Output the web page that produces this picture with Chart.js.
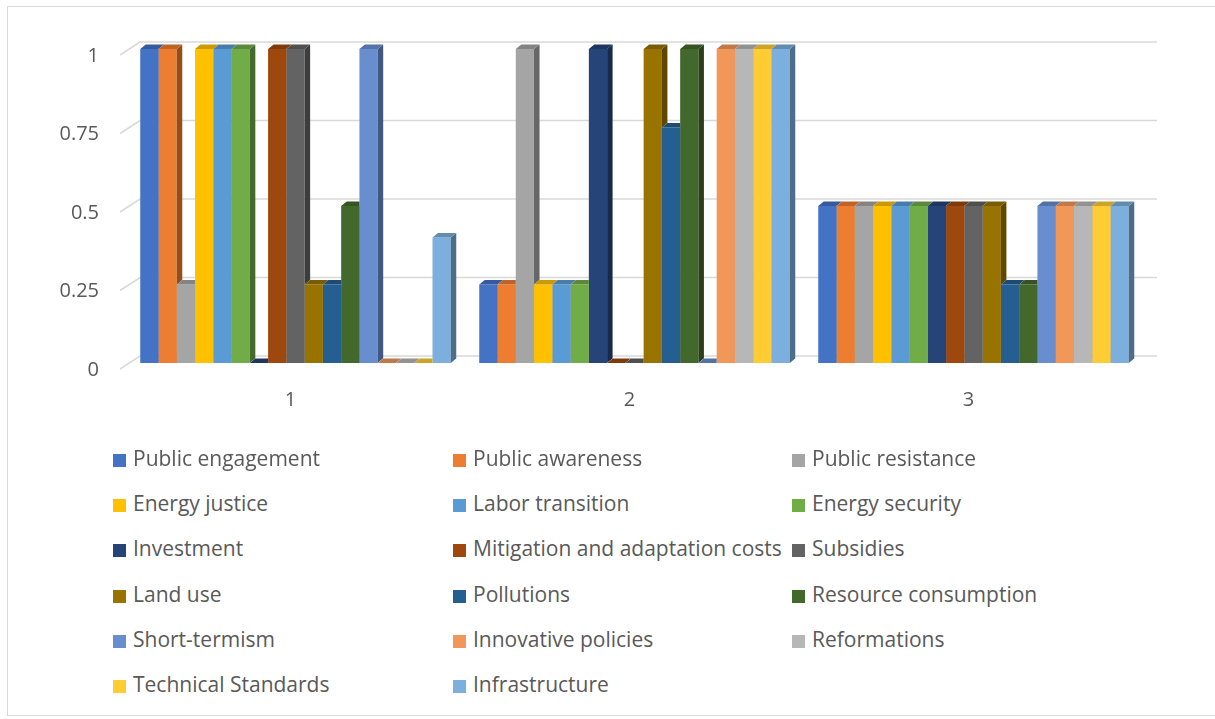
<!DOCTYPE html>
<html>
<head>
<meta charset="utf-8">
<script src="https://cdn.jsdelivr.net/npm/chart.js@4/dist/chart.umd.min.js"></script>
<style>
  html, body { margin: 0; padding: 0; background: #fff; }
  body { width: 1215px; height: 719px; position: relative; overflow: hidden; font-family: "Open Sans", Lato, sans-serif; }
  #frame { position: absolute; left: 7px; top: 6px; width: 1220px; height: 710px; border: 1px solid #d9d9d9; box-sizing: border-box; }
  #chartBox { position: absolute; left: 0; top: 0; width: 1215px; height: 440px; }
  #legend { position: absolute; left: 0; top: 436px; width: 1215px; }
  .item { position: absolute; height: 45px; line-height: 45px; font-size: 21px; color: #595959; white-space: nowrap; }
  .item span.box { display: inline-block; width: 13px; height: 13px; margin-right: 7px; vertical-align: -1px; }
</style>
</head>
<body>
<div id="frame"></div>
<div id="chartBox"><canvas id="chart"></canvas></div>
<div id="legend"></div>
<script>
"use strict";

const categories = ["1", "2", "3"];
const yTicks = [0, 0.25, 0.5, 0.75, 1];

const seriesNames = [
  "Public engagement", "Public awareness", "Public resistance",
  "Energy justice", "Labor transition", "Energy security",
  "Investment", "Mitigation and adaptation costs", "Subsidies",
  "Land use", "Pollutions", "Resource consumption",
  "Short-termism", "Innovative policies", "Reformations",
  "Technical Standards", "Infrastructure"
];
const seriesColors = [
  "#4472C4", "#ED7D31", "#A5A5A5",
  "#FFC000", "#5B9BD5", "#70AD47",
  "#264478", "#9E480E", "#636363",
  "#997300", "#255E91", "#43682B",
  "#698ED0", "#F1975A", "#B7B7B7",
  "#FFCD33", "#7CAFDD"
];

const publicEngagement = [1, 0.25, 0.5];
const publicAwareness = [1, 0.25, 0.5];
const publicResistance = [0.25, 1, 0.5];
const energyJustice = [1, 0.25, 0.5];
const laborTransition = [1, 0.25, 0.5];
const energySecurity = [1, 0.25, 0.5];
const investment = [0, 1, 0.5];
const mitigationCosts = [1, 0, 0.5];
const subsidies = [1, 0, 0.5];
const landUse = [0.25, 1, 0.5];
const pollutions = [0.25, 0.75, 0.25];
const resourceConsumption = [0.5, 1, 0.25];
const shortTermism = [1, 0, 0.5];
const innovativePolicies = [0, 1, 0.5];
const reformations = [0, 1, 0.5];
const technicalStandards = [0, 1, 0.5];
const infrastructure = [0.4, 1, 0.5];

const seriesValues = [
  publicEngagement, publicAwareness, publicResistance,
  energyJustice, laborTransition, energySecurity,
  investment, mitigationCosts, subsidies,
  landUse, pollutions, resourceConsumption,
  shortTermism, innovativePolicies, reformations,
  technicalStandards, infrastructure
];

const DX = 5.5, DY = 4.5;

function shade(hex, f) {
  const n = parseInt(hex.slice(1), 16);
  const r = Math.round(((n >> 16) & 255) * f);
  const g = Math.round(((n >> 8) & 255) * f);
  const b = Math.round((n & 255) * f);
  return "rgb(" + r + "," + g + "," + b + ")";
}

// back-wall gridlines of the 3D chart
const wallGrid = {
  id: "wallGrid",
  beforeDatasetsDraw(chart) {
    const ctx = chart.ctx;
    const y = chart.scales.y;
    const area = chart.chartArea;
    ctx.save();
    ctx.strokeStyle = "#d9d9d9";
    ctx.lineWidth = 1.6;
    yTicks.forEach(v => {
      const py = y.getPixelForValue(v);
      ctx.beginPath();
      ctx.moveTo(area.left - 6, py + 6);
      ctx.lineTo(area.left + 14, py - 7);
      ctx.lineTo(area.right + 14, py - 7);
      ctx.stroke();
    });
    ctx.restore();
  }
};

function barShape(ctx, b) {
  const L = b.x - b.width / 2, R = b.x + b.width / 2;
  ctx.moveTo(L, b.base);
  ctx.lineTo(L, b.y);
  ctx.lineTo(L + DX, b.y - DY);
  ctx.lineTo(R + DX, b.y - DY);
  ctx.lineTo(R + DX, b.base - DY);
  ctx.lineTo(R, b.base);
  ctx.closePath();
}

// side and top faces of each bar
const bars3d = {
  id: "bars3d",
  afterDatasetsDraw(chart) {
    const ctx = chart.ctx;
    const n = chart.data.datasets.length;
    categories.forEach((c, j) => {
      const props = [];
      for (let i = 0; i < n; i++) {
        props.push(chart.getDatasetMeta(i).data[j].getProps(["x", "y", "base", "width"], true));
      }
      for (let i = 0; i < n; i++) {
        const b = props[i];
        const L = b.x - b.width / 2, R = b.x + b.width / 2;
        const col = seriesColors[i];
        ctx.save();
        if (i < n - 1) {
          ctx.beginPath();
          ctx.rect(0, 0, chart.width, chart.height);
          barShape(ctx, props[i + 1]);
          ctx.clip("evenodd");
        }
        ctx.fillStyle = shade(col, 0.62);
        ctx.beginPath();
        ctx.moveTo(R, b.y);
        ctx.lineTo(R + DX, b.y - DY);
        ctx.lineTo(R + DX, b.base - DY);
        ctx.lineTo(R, b.base);
        ctx.closePath();
        ctx.fill();
        ctx.fillStyle = shade(col, 0.8);
        ctx.beginPath();
        ctx.moveTo(L, b.y);
        ctx.lineTo(L + DX, b.y - DY);
        ctx.lineTo(R + DX, b.y - DY);
        ctx.lineTo(R, b.y);
        ctx.closePath();
        ctx.fill();
        ctx.restore();
      }
    });
  }
};

const datasets = seriesNames.map((name, i) => ({
  label: name,
  data: seriesValues[i],
  backgroundColor: seriesColors[i],
  borderWidth: 0,
  categoryPercentage: 0.916,
  barPercentage: 1.0
}));

new Chart(document.getElementById("chart").getContext("2d"), {
  type: "bar",
  data: { labels: categories, datasets: datasets },
  options: {
    responsive: true,
    maintainAspectRatio: false,
    animation: false,
    layout: { padding: { top: 49, right: 72, left: 0, bottom: 0 } },
    plugins: { legend: { display: false }, tooltip: { enabled: false } },
    scales: {
      x: {
        grid: { display: false, drawTicks: false },
        border: { display: false },
        ticks: { color: "#595959", font: { family: "Open Sans", size: 20 }, padding: 25, labelOffset: -5 },
        afterFit(scale) { scale.height = 77; }
      },
      y: {
        min: 0,
        max: 1,
        grid: { display: false, drawTicks: false },
        border: { display: false },
        afterBuildTicks(scale) { scale.ticks = yTicks.map(v => ({ value: v })); },
        ticks: {
          color: "#595959",
          font: { family: "Open Sans", size: 20 },
          padding: 27,
          labelOffset: 7,
          callback: v => String(v)
        },
        afterFit(scale) { scale.width = 126; }
      }
    }
  },
  plugins: [wallGrid, bars3d]
});

// legend in three fixed columns
const legend = document.getElementById("legend");
const colLeft = [113, 453, 792];
seriesNames.forEach((name, i) => {
  const d = document.createElement("div");
  d.className = "item";
  d.style.left = colLeft[i % 3] + "px";
  d.style.top = (Math.floor(i / 3) * 45.2) + "px";
  d.innerHTML = '<span class="box" style="background:' + seriesColors[i] + '"></span>' + name;
  legend.appendChild(d);
});
</script>
</body>
</html>
